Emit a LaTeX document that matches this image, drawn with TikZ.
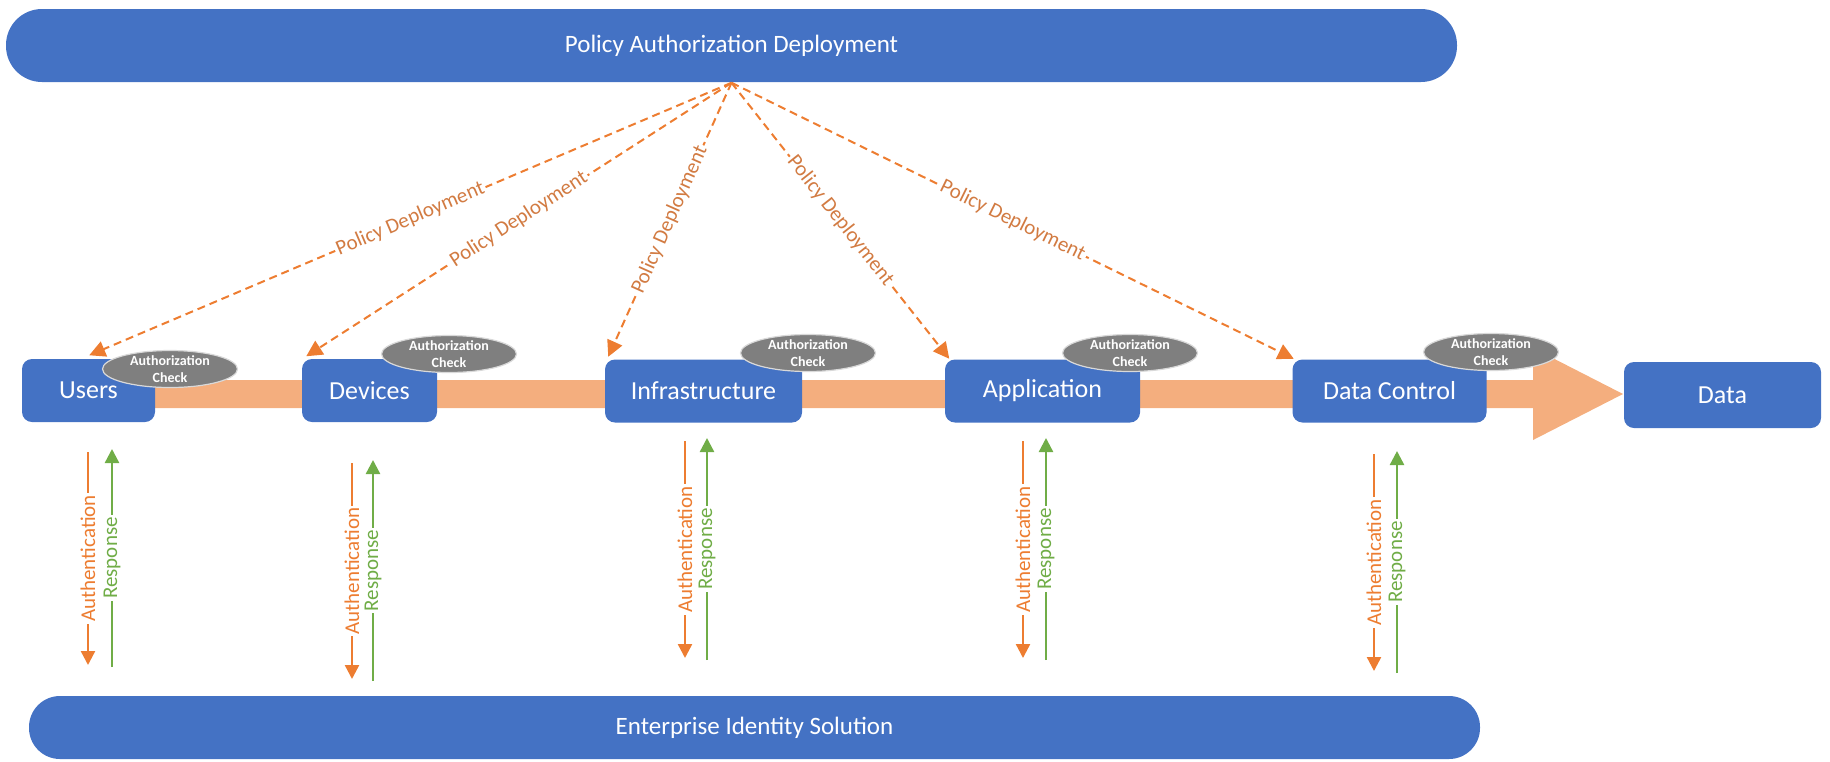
\documentclass[tikz,border=0pt]{standalone}
\usepackage{fontspec}
\setmainfont{Carlito}
\usetikzlibrary{arrows.meta,shapes.geometric,calc}

\definecolor{padblue}{HTML}{4472C4}
\definecolor{bandorange}{HTML}{F4AE7E}
\definecolor{deporange}{HTML}{ED7D31}
\definecolor{deptext}{HTML}{D27B42}
\definecolor{respgreen}{HTML}{70AD47}
\definecolor{chkgray}{HTML}{7F7F7F}

\tikzset{every picture/.style={line width=0.75pt}}

\begin{document}
\begin{tikzpicture}[x=0.5pt,y=0.5pt,yscale=-1,
	bar/.style={fill=padblue, text=white, inner sep=0pt, minimum width=725.5pt, font=\fontsize{12.5}{14}\selectfont},
	stage/.style={fill=padblue, text=white, rounded corners=5pt, minimum height=31.5pt, inner sep=0pt, font=\fontsize{13}{15}\selectfont},
	chk/.style={ellipse, fill=chkgray, draw=white!70!chkgray, line width=0.6pt, minimum width=67.5pt, minimum height=18.5pt, inner sep=0pt},
	chklbl/.style={text=white, align=center, inner sep=0pt, font=\fontsize{7}{8.5}\selectfont\bfseries},
	pdep/.style={draw=deporange, line width=1pt, dash pattern=on 4pt off 2.5pt, -{Triangle[length=8pt,width=8pt]}},
	pdlbl/.style={midway, rotate=#1, fill=white, text=deptext, inner sep=1pt, font=\fontsize{10.5}{12}\selectfont},
	authln/.style={draw=deporange, line width=1.2pt, -{Triangle[length=7pt,width=7pt]}},
	respln/.style={draw=respgreen, line width=1.2pt, -{Triangle[length=7pt,width=7pt]}},
	authlbl/.style={midway, rotate=90, fill=white, text=deporange, inner sep=1pt, font=\fontsize{10.5}{12}\selectfont},
	resplbl/.style={midway, rotate=90, fill=white, text=respgreen, inner sep=1pt, font=\fontsize{10.5}{12}\selectfont}]
	\path[use as bounding box] (0,0) rectangle (1830,761);

	%Shape: Right Arrow (data flow band)
	\fill[bandorange] (150,380) -- (1533,380) -- (1533,348) -- (1623,394) -- (1533,440) -- (1533,408) -- (150,408) -- cycle ;

	%Shape: Rounded Rect
	\node[bar, minimum height=36.5pt, rounded corners=18pt] (pad) at (731.5,45.5) {Policy Authorization Deployment};
	%Shape: Rounded Rect
	\node[bar, minimum height=31.5pt, rounded corners=15.5pt] (eis) at (754.5,727.5) {Enterprise Identity Solution};

	%Shape: Rounded Rect
	\node[stage, minimum width=66.5pt] (users) at (88.5,390.5) {Users};
	%Shape: Rounded Rect
	\node[stage, minimum width=67.5pt] (devices) at (369.5,390.5) {Devices};
	%Shape: Rounded Rect
	\node[stage, minimum width=98.5pt] (infra) at (703.5,391) {Infrastructure};
	%Shape: Rounded Rect
	\node[stage, minimum width=97.5pt] (app) at (1042.5,391) {Application};
	%Shape: Rounded Rect
	\node[stage, minimum width=97pt] (dctl) at (1389.5,391) {Data Control};
	%Shape: Rounded Rect
	\node[stage, minimum width=98.5pt, minimum height=33pt] (data) at (1722.5,395) {Data};

	%Shape: Ellipse
	\node[chk] (chk-usr) at (170,369) {};
	\node[chklbl] (chk-usr-t) at (chk-usr) {Authorization\\Check};
	%Shape: Ellipse
	\node[chk] (chk-dev) at (449,354) {};
	\node[chklbl] (chk-dev-t) at (chk-dev) {Authorization\\Check};
	%Shape: Ellipse
	\node[chk] (chk-inf) at (808,353) {};
	\node[chklbl] (chk-inf-t) at (chk-inf) {Authorization\\Check};
	%Shape: Ellipse
	\node[chk] (chk-app) at (1130,353) {};
	\node[chklbl] (chk-app-t) at (chk-app) {Authorization\\Check};
	%Shape: Ellipse
	\node[chk] (chk-dct) at (1491,352) {};
	\node[chklbl] (chk-dct-t) at (chk-dct) {Authorization\\Check};

	%Straight Lines [dashed]
	\draw[pdep] (pad.south) -- node[pdlbl=23.1] (pd-usr) {Policy Deployment} ($(users.north west)+(68,-3)$);
	\draw[pdep] (pad.south) -- node[pdlbl=32.9] (pd-dev) {Policy Deployment} ($(devices.north west)+(5,-2)$);
	\draw[pdep] (pad.south) -- node[pdlbl=66] (pd-inf) {Policy Deployment} ($(infra.north west)+(4,-2)$);
	\draw[pdep] (pad.south) -- node[pdlbl=-51.8] (pd-app) {Policy Deployment} ($(app.north west)+(5,0)$);
	\draw[pdep] (pad.south) -- node[pdlbl=-26.2] (pd-dct) {Policy Deployment} ($(dctl.north west)+(2,0)$);

	%Straight Lines [authentication / response]
	\foreach \nm/\xa/\xr/\ya/\yb in {usr/88/112/452/665, dev/352/373/463/679, inf/685/707/441/658, app/1023/1046/441/658, dct/1374/1397/454/671} {
		\coordinate (\nm-a1) at (\xa,\ya);
		\coordinate (\nm-a2) at (\xa,\yb);
		\coordinate (\nm-r1) at (\xr,\yb+2);
		\coordinate (\nm-r2) at (\xr,\ya-3);
		\draw[authln] (\nm-a1) -- node[authlbl] (\nm-al) {Authentication} (\nm-a2);
		\draw[respln] (\nm-r1) -- node[resplbl] (\nm-rl) {Response} (\nm-r2);
	}

\end{tikzpicture}
\end{document}
